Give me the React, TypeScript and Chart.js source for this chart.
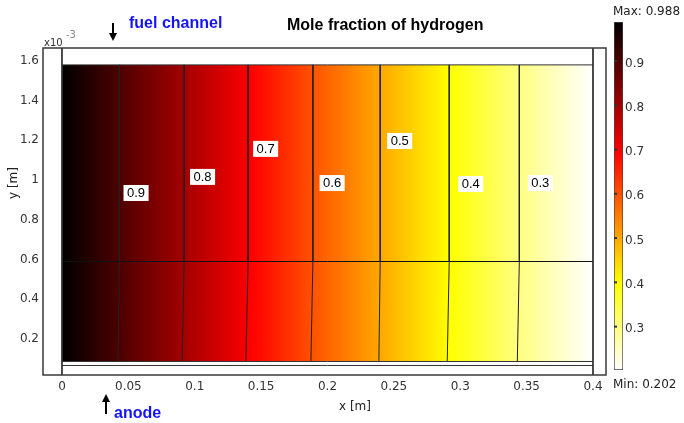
import React, { useEffect, useRef } from 'react';
import { Chart, registerables } from 'chart.js';

Chart.register(...registerables);

// ---- data ----
const xTicks = [0, 0.05, 0.1, 0.15, 0.2, 0.25, 0.3, 0.35, 0.4];
const yTicks = [0.2, 0.4, 0.6, 0.8, 1, 1.2, 1.4, 1.6]; // in 10^-3 m
const colorTicks = [0.3, 0.4, 0.5, 0.6, 0.7, 0.8, 0.9];
const vMin = 0.202;
const vMax = 0.988;
const contourLevels = [0.9, 0.8, 0.7, 0.6, 0.5, 0.4, 0.3];
const contourXTop = [0.0432, 0.092, 0.1402, 0.189, 0.2397, 0.2917, 0.3445];
const contourXBottom = [0.0422, 0.0905, 0.1385, 0.1875, 0.2387, 0.2902, 0.343];
const labelX = [0.0558, 0.1059, 0.1534, 0.2035, 0.2544, 0.3079, 0.3603];
const labelY = [0.935, 1.016, 1.157, 0.985, 1.197, 0.98, 0.985];
const domainLeft = 0;
const domainRight = 0.4;
const axisXMin = -0.0143;
const axisXMax = 0.4098;
const axisYMin = 0.0186;
const axisYMax = 1.665;
const channelTop = 1.58;
const interfaceY = 0.59;
const fieldBottom = 0.0866;
const membraneY = 0.0665;

// ---- helpers ----
function hotRGB(v: number) {
  const t = Math.min(1, Math.max(0, (vMax - v) / (vMax - vMin)));
  const r = Math.min(1, t * 8 / 3);
  const g = Math.min(1, Math.max(0, (t - 3 / 8) * 8 / 3));
  const b = Math.min(1, Math.max(0, (t - 3 / 4) * 4));
  return `rgb(${Math.round(r * 255)},${Math.round(g * 255)},${Math.round(b * 255)})`;
}

const profileX = [domainLeft, ...contourXTop.map((x, i) => (x + contourXBottom[i]) / 2), domainRight];
const profileV = [vMax, ...contourLevels, vMin];

function valueAt(x: number) {
  for (let i = 0; i < profileX.length - 1; i++) {
    if (x <= profileX[i + 1]) {
      const f = (x - profileX[i]) / (profileX[i + 1] - profileX[i]);
      return profileV[i] + f * (profileV[i + 1] - profileV[i]);
    }
  }
  return vMin;
}

const tickFont = { family: "'DejaVu Sans', Verdana, sans-serif", size: 12 };
const tickColor = '#333';

export default function App() {
  const mainRef = useRef<HTMLCanvasElement>(null);
  const barRef = useRef<HTMLCanvasElement>(null);

  useEffect(() => {
    const lineDs = (pts: { x: number; y: number }[], color = '#333', width = 1) => ({
      type: 'line' as const,
      data: pts,
      borderColor: color,
      borderWidth: width,
      pointRadius: 0,
      fill: false,
      tension: 0,
      order: 1,
    });

    const datasets: any[] = [];
    // colored field
    datasets.push({
      type: 'line',
      data: [
        { x: domainLeft, y: channelTop },
        { x: domainRight, y: channelTop },
      ],
      fill: { value: fieldBottom },
      borderWidth: 0,
      borderColor: 'rgba(0,0,0,0)',
      pointRadius: 0,
      order: 10,
      backgroundColor: (ctx: any) => {
        const chart = ctx.chart;
        const area = chart.chartArea;
        if (!area) return 'red';
        const xs = chart.scales.x;
        const x0 = xs.getPixelForValue(domainLeft);
        const x1 = xs.getPixelForValue(domainRight);
        const g = chart.ctx.createLinearGradient(x0, 0, x1, 0);
        const N = 200;
        for (let i = 0; i <= N; i++) {
          const x = domainLeft + (domainRight - domainLeft) * i / N;
          g.addColorStop(i / N, hotRGB(valueAt(x)));
        }
        return g;
      },
    });
    // geometry lines
    datasets.push(lineDs([{ x: domainLeft, y: axisYMax }, { x: domainLeft, y: axisYMin }]));
    datasets.push(lineDs([{ x: domainRight, y: axisYMax }, { x: domainRight, y: axisYMin }]));
    datasets.push(lineDs([{ x: domainLeft, y: channelTop }, { x: domainRight, y: channelTop }]));
    datasets.push(lineDs([{ x: domainLeft, y: interfaceY }, { x: domainRight, y: interfaceY }], '#111'));
    datasets.push(lineDs([{ x: domainLeft, y: fieldBottom }, { x: domainRight, y: fieldBottom }]));
    datasets.push(lineDs([{ x: domainLeft, y: membraneY }, { x: domainRight, y: membraneY }]));
    // contour lines
    contourLevels.forEach((_, i) => {
      datasets.push(
        lineDs(
          [
            { x: contourXTop[i], y: channelTop },
            { x: contourXTop[i], y: interfaceY },
            { x: contourXBottom[i], y: fieldBottom },
          ],
          '#222'
        )
      );
    });

    const overlay = {
      id: 'overlay',
      afterDatasetsDraw(chart: any) {
        const { ctx, chartArea, scales } = chart;
        ctx.save();
        // contour labels
        ctx.font = "13px 'Liberation Sans', Arial, sans-serif";
        ctx.textAlign = 'center';
        ctx.textBaseline = 'middle';
        contourLevels.forEach((lv, i) => {
          const px = scales.x.getPixelForValue(labelX[i]);
          const py = scales.y.getPixelForValue(labelY[i]);
          const txt = String(lv);
          const w = ctx.measureText(txt).width + 7;
          ctx.fillStyle = '#fff';
          ctx.fillRect(px - w / 2, py - 8, w, 16);
          ctx.fillStyle = '#000';
          ctx.fillText(txt, px, py + 0.5);
        });
        // axes box
        ctx.strokeStyle = '#3a3a3a';
        ctx.lineWidth = 1.5;
        ctx.strokeRect(chartArea.left, chartArea.top, chartArea.right - chartArea.left, chartArea.bottom - chartArea.top);
        ctx.restore();
      },
      afterDraw(chart: any) {
        const { ctx } = chart;
        ctx.save();
        // title
        ctx.fillStyle = '#000';
        ctx.font = "bold 16px 'Liberation Sans', Arial, sans-serif";
        ctx.textAlign = 'left';
        ctx.textBaseline = 'alphabetic';
        ctx.fillText('Mole fraction of hydrogen', 287, 30);
        // blue annotations
        ctx.fillStyle = '#1414ff';
        ctx.fillText('fuel channel', 129, 28);
        ctx.fillText('anode', 114, 418);
        // arrows
        ctx.strokeStyle = '#000';
        ctx.fillStyle = '#000';
        ctx.lineWidth = 2;
        ctx.beginPath();
        ctx.moveTo(113, 23);
        ctx.lineTo(113, 35);
        ctx.stroke();
        ctx.beginPath();
        ctx.moveTo(109, 33);
        ctx.lineTo(117, 33);
        ctx.lineTo(113, 41);
        ctx.closePath();
        ctx.fill();
        ctx.beginPath();
        ctx.moveTo(106, 414);
        ctx.lineTo(106, 400);
        ctx.stroke();
        ctx.beginPath();
        ctx.moveTo(102, 402);
        ctx.lineTo(110, 402);
        ctx.lineTo(106, 394);
        ctx.closePath();
        ctx.fill();
        // axis titles
        ctx.fillStyle = '#222';
        ctx.font = "12px 'DejaVu Sans', Verdana, sans-serif";
        ctx.textAlign = 'center';
        ctx.textBaseline = 'middle';
        ctx.fillText('x [m]', 355, 407);
        ctx.save();
        ctx.translate(14, 183);
        ctx.rotate(-Math.PI / 2);
        ctx.fillText('y [m]', 0, 0);
        ctx.restore();
        // exponent
        ctx.textAlign = 'left';
        ctx.font = "10px 'DejaVu Sans', Verdana, sans-serif";
        ctx.fillStyle = '#333';
        ctx.fillText('x10', 44, 43);
        ctx.fillStyle = '#888';
        ctx.fillText('-3', 66, 35);
        ctx.restore();
      },
    };

    const main = new Chart(mainRef.current!, {
      type: 'line',
      data: { datasets },
      options: {
        responsive: false,
        maintainAspectRatio: false,
        animation: false,
        layout: { padding: { top: 48, right: 78, left: 0, bottom: 0 } },
        plugins: { legend: { display: false }, tooltip: { enabled: false } },
        scales: {
          x: {
            type: 'linear',
            min: axisXMin,
            max: axisXMax,
            afterBuildTicks: (s: any) => {
              s.ticks = xTicks.map((v) => ({ value: v }));
            },
            afterFit: (s: any) => {
              s.height = 48;
            },
            grid: { display: false, drawTicks: false },
            border: { display: false },
            ticks: {
              padding: 5,
              font: tickFont,
              color: tickColor,
              maxRotation: 0,
              autoSkip: false,
              callback: (v: any) => String(v),
            },
          },
          y: {
            type: 'linear',
            min: axisYMin,
            max: axisYMax,
            afterBuildTicks: (s: any) => {
              s.ticks = yTicks.map((v) => ({ value: v }));
            },
            afterFit: (s: any) => {
              s.width = 43;
            },
            grid: { display: false, drawTicks: false },
            border: { display: false },
            ticks: {
              padding: 4,
              font: tickFont,
              color: tickColor,
              autoSkip: false,
              callback: (v: any) => String(v),
            },
          },
        },
      } as any,
      plugins: [overlay],
    });

    const barOverlay = {
      id: 'barOverlay',
      afterDraw(chart: any) {
        const { ctx, chartArea, scales } = chart;
        ctx.save();
        ctx.fillStyle = '#333';
        colorTicks.forEach((v) => {
          const py = scales.y.getPixelForValue(v);
          ctx.fillRect(chartArea.left, py - 1, 3, 2);
        });
        ctx.font = "12px 'DejaVu Sans', Verdana, sans-serif";
        ctx.textAlign = 'left';
        ctx.textBaseline = 'middle';
        ctx.fillStyle = '#222';
        ctx.fillText('Max: ' + vMax, 13, 12);
        ctx.fillText('Min: ' + vMin, 13, 385);
        ctx.restore();
      },
    };

    const bar = new Chart(barRef.current!, {
      type: 'bar',
      data: {
        labels: [''],
        datasets: [
          {
            data: [[vMin, vMax]],
            borderColor: '#444',
            borderWidth: 1,
            borderSkipped: false,
            barPercentage: 1,
            categoryPercentage: 1,
            backgroundColor: (ctx: any) => {
              const chart = ctx.chart;
              if (!chart.chartArea) return '#000';
              const ys = chart.scales.y;
              const y0 = ys.getPixelForValue(vMin);
              const y1 = ys.getPixelForValue(vMax);
              const g = chart.ctx.createLinearGradient(0, y0, 0, y1);
              const N = 40;
              for (let i = 0; i <= N; i++) {
                const v = vMin + (vMax - vMin) * i / N;
                g.addColorStop(i / N, hotRGB(v));
              }
              return g;
            },
          } as any,
        ],
      },
      options: {
        responsive: false,
        maintainAspectRatio: false,
        animation: false,
        layout: { padding: { top: 22, bottom: 53, left: 14, right: 0 } },
        plugins: { legend: { display: false }, tooltip: { enabled: false } },
        scales: {
          x: { display: false },
          y: {
            position: 'right',
            min: vMin,
            max: vMax,
            afterBuildTicks: (s: any) => {
              s.ticks = colorTicks.map((v) => ({ value: v }));
            },
            afterFit: (s: any) => {
              s.width = 61;
            },
            grid: { display: false, drawTicks: false },
            border: { display: false },
            ticks: {
              padding: 2,
              labelOffset: 2.5,
              font: tickFont,
              color: tickColor,
              autoSkip: false,
              callback: (v: any) => String(v),
            },
          },
        },
      } as any,
      plugins: [barOverlay],
    });

    return () => {
      main.destroy();
      bar.destroy();
    };
  }, []);

  return (
    <div style={{ position: 'fixed', left: 0, top: 0, width: 684, height: 423, background: '#fff' }}>
      <canvas ref={mainRef} width={684} height={423} style={{ position: 'absolute', left: 0, top: 0, width: 684, height: 423 }} />
      <canvas ref={barRef} width={84} height={423} style={{ position: 'absolute', left: 600, top: 0, width: 84, height: 423 }} />
    </div>
  );
}
